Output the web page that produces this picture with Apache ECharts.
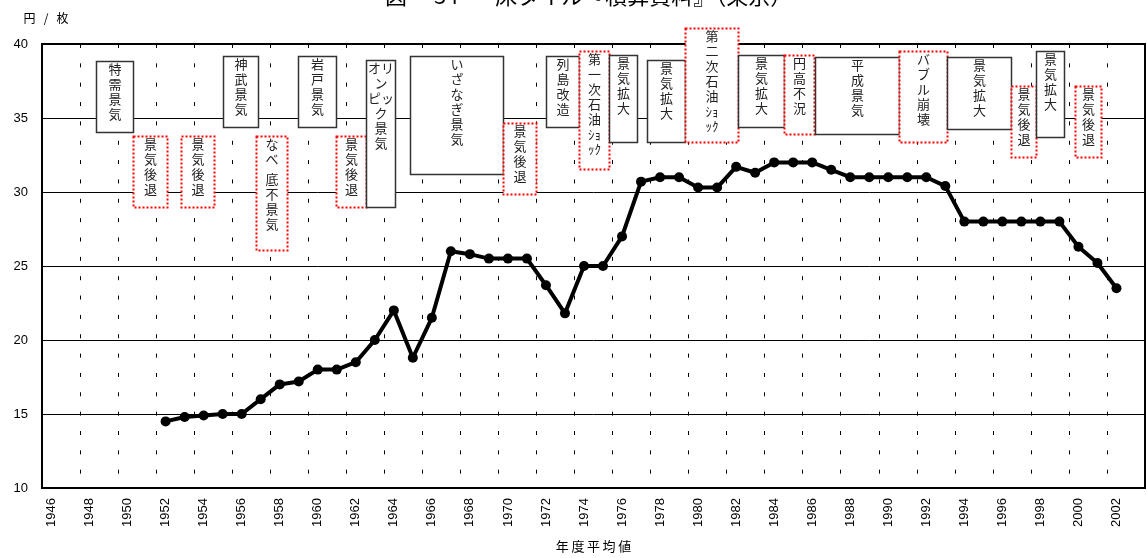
<!DOCTYPE html>
<html>
<head>
<meta charset="utf-8">
<script src="https://cdn.jsdelivr.net/npm/echarts@6/dist/echarts.min.js"></script>
<style>
html, body { margin: 0; padding: 0; background: #fff; }
#chart { width: 1147px; height: 558px; }
</style>
</head>
<body>
<div id="chart"></div>
<script>
const FONT = '"Noto Sans CJK JP", "Liberation Sans", sans-serif';

// 年度 (カテゴリ)
const years = ['1946','1947','1948','1949','1950','1951','1952','1953','1954','1955',
  '1956','1957','1958','1959','1960','1961','1962','1963','1964','1965',
  '1966','1967','1968','1969','1970','1971','1972','1973','1974','1975',
  '1976','1977','1978','1979','1980','1981','1982','1983','1984','1985',
  '1986','1987','1988','1989','1990','1991','1992','1993','1994','1995',
  '1996','1997','1998','1999','2000','2001','2002','2003'];

// 床タイル 円/枚
const tilePrice = [null, null, null, null, null, null,
  14.5, 14.8, 14.9, 15.0, 15.0, 16.0, 17.0, 17.2, 18.0, 18.0,
  18.5, 20.0, 22.0, 18.8, 21.5, 26.0, 25.8, 25.5, 25.5, 25.5,
  23.7, 21.8, 25.0, 25.0, 27.0, 30.7, 31.0, 31.0, 30.3, 30.3,
  31.7, 31.3, 32.0, 32.0, 32.0, 31.5, 31.0, 31.0, 31.0, 31.0,
  31.0, 30.4, 28.0, 28.0, 28.0, 28.0, 28.0, 28.0, 26.3, 25.2,
  23.5, null];

// 景気の局面 (縦書き)
const phaseNames = [
  '特\n需\n景\n気', '景\n気\n後\n退', '景\n気\n後\n退', '神\n武\n景\n気',
  'な\nべ\n{g| }\n底\n不\n景\n気', '岩\n戸\n景\n気', '景\n気\n後\n退',
  'オリ\nン\nピッ\nク\n景\n気', 'い\nざ\nな\nぎ\n景\n気', '景\n気\n後\n退',
  '列\n島\n改\n造', '第\n一\n次\n石\n油\nｼｮ\nｯｸ', '景\n気\n拡\n大', '景\n気\n拡\n大',
  '第\n二\n次\n石\n油\nｼｮ\nｯｸ', '景\n気\n拡\n大', '円\n高\n不\n況', '平\n成\n景\n気',
  'バ\nブ\nル\n崩\n壊', '景\n気\n拡\n大', '景\n気\n後\n退', '景\n気\n拡\n大', '景\n気\n後\n退'];
const phaseType = ['up', 'down', 'down', 'up', 'down', 'up', 'down', 'up', 'up', 'down',
  'up', 'down', 'up', 'up', 'down', 'up', 'down', 'up', 'down', 'up', 'down', 'up', 'down'];
const phaseStart = [1948.32, 1950.26, 1952.83, 1955.04, 1956.77, 1958.95, 1960.97, 1962.54, 1964.87, 1969.75,
  1972.0, 1973.74, 1975.32, 1977.33, 1979.31, 1982.1, 1984.5, 1986.17, 1990.54, 1993.11, 1996.44, 1997.77, 1999.81];
const phaseEnd = [1950.29, 1952.05, 1954.53, 1956.85, 1958.38, 1960.97, 1962.54, 1964.07, 1969.75, 1971.5,
  1973.74, 1975.32, 1976.77, 1979.31, 1982.1, 1984.5, 1986.11, 1990.54, 1993.11, 1996.44, 1997.77, 1999.24, 2001.21];
const phaseTop = [38.84, 33.79, 33.79, 39.18, 33.79, 39.18, 33.79, 38.89, 39.2, 34.69,
  39.2, 39.52, 39.23, 38.89, 41.09, 39.23, 39.27, 39.11, 39.52, 39.11, 37.16, 39.52, 37.16];
const phaseBottom = [34.04, 29.01, 29.01, 34.36, 26.05, 34.36, 29.01, 28.97, 31.21, 29.87,
  34.36, 31.55, 33.35, 33.35, 33.39, 34.4, 33.95, 33.95, 33.35, 34.24, 32.38, 33.69, 32.38];

function renderPhase(params, api) {
  const i = params.dataIndex;
  const a = api.coord([api.value(0), api.value(3)]);
  const b = api.coord([api.value(1), api.value(2)]);
  const x = Math.round(a[0]) + 0.5;
  const y = Math.round(a[1]) + 0.5;
  const w = Math.round(b[0]) - Math.round(a[0]);
  const h = Math.round(b[1]) - Math.round(a[1]);
  const down = phaseType[i] === 'down';
  const boxStyle = down
    ? { fill: '#fff', stroke: '#ff0000', lineWidth: 2, lineDash: [2, 2] }
    : { fill: '#fff', stroke: '#333', lineWidth: 1.5 };
  return {
    type: 'group',
    children: [
      { type: 'rect', shape: { x: x, y: y, width: w, height: h }, style: boxStyle },
      {
        type: 'text', x: x + w / 2, y: y,
        style: {
          text: phaseNames[i], fill: '#222', fontSize: 13, fontFamily: FONT,
          lineHeight: 15, align: 'center', verticalAlign: 'top',
          rich: { g: { lineHeight: 5, fontSize: 5 } }
        }
      }
    ]
  };
}

const chart = echarts.init(document.getElementById('chart'));
chart.setOption({
  animation: false,
  backgroundColor: '#fff',
  textStyle: { fontFamily: FONT },
  title: {
    text: '図\u3000 34\u3000   床タイル『積算資料』（東京）',
    left: 385, top: -15, padding: 0,
    textStyle: { fontSize: 22, fontWeight: 'normal', color: '#000', fontFamily: FONT }
  },
  grid: { left: 42, right: 2, top: 44, bottom: 69, show: true, borderColor: '#000', borderWidth: 2 },
  xAxis: [{
    type: 'category',
    data: years,
    boundaryGap: true,
    axisLine: { lineStyle: { color: '#000', width: 2 } },
    axisTick: { show: false },
    axisLabel: { interval: 1, rotate: 90, margin: 10, fontSize: 13, color: '#000', fontFamily: '"Liberation Sans", Arial, sans-serif' },
    splitLine: { show: true, interval: 1, lineStyle: { color: '#000', width: 1, type: [4, 15.35] } },
    name: '年\u2009度\u2009平\u2009均\u2009値',
    nameLocation: 'middle',
    nameGap: 52,
    nameTextStyle: { fontSize: 13, color: '#000' }
  }, {
    type: 'value', min: 1945.5, max: 2003.5, show: false
  }],
  yAxis: {
    type: 'value', min: 10, max: 40, interval: 5,
    axisLine: { show: true, lineStyle: { color: '#000', width: 2 } },
    axisTick: { show: false },
    axisLabel: { margin: 14, fontSize: 13, color: '#000', fontFamily: '"Liberation Sans", Arial, sans-serif' },
    splitLine: { lineStyle: { color: '#000', width: 1 } },
    name: '円   /   枚',
    nameLocation: 'end',
    nameGap: 20,
    nameTextStyle: { fontSize: 12, color: '#000', align: 'center', padding: [0, 0, 0, 8] }
  },
  series: [{
    type: 'custom',
    xAxisIndex: 1,
    yAxisIndex: 0,
    clip: false,
    z: 2,
    encode: { x: [0, 1], y: [2, 3] },
    data: phaseStart.map((s, i) => [s, phaseEnd[i], phaseBottom[i], phaseTop[i]]),
    renderItem: renderPhase
  }, {
    type: 'line',
    xAxisIndex: 0,
    yAxisIndex: 0,
    z: 3,
    data: tilePrice,
    symbol: 'circle',
    symbolSize: 10,
    lineStyle: { color: '#000', width: 4 },
    itemStyle: { color: '#000' }
  }]
});
</script>
</body>
</html>
